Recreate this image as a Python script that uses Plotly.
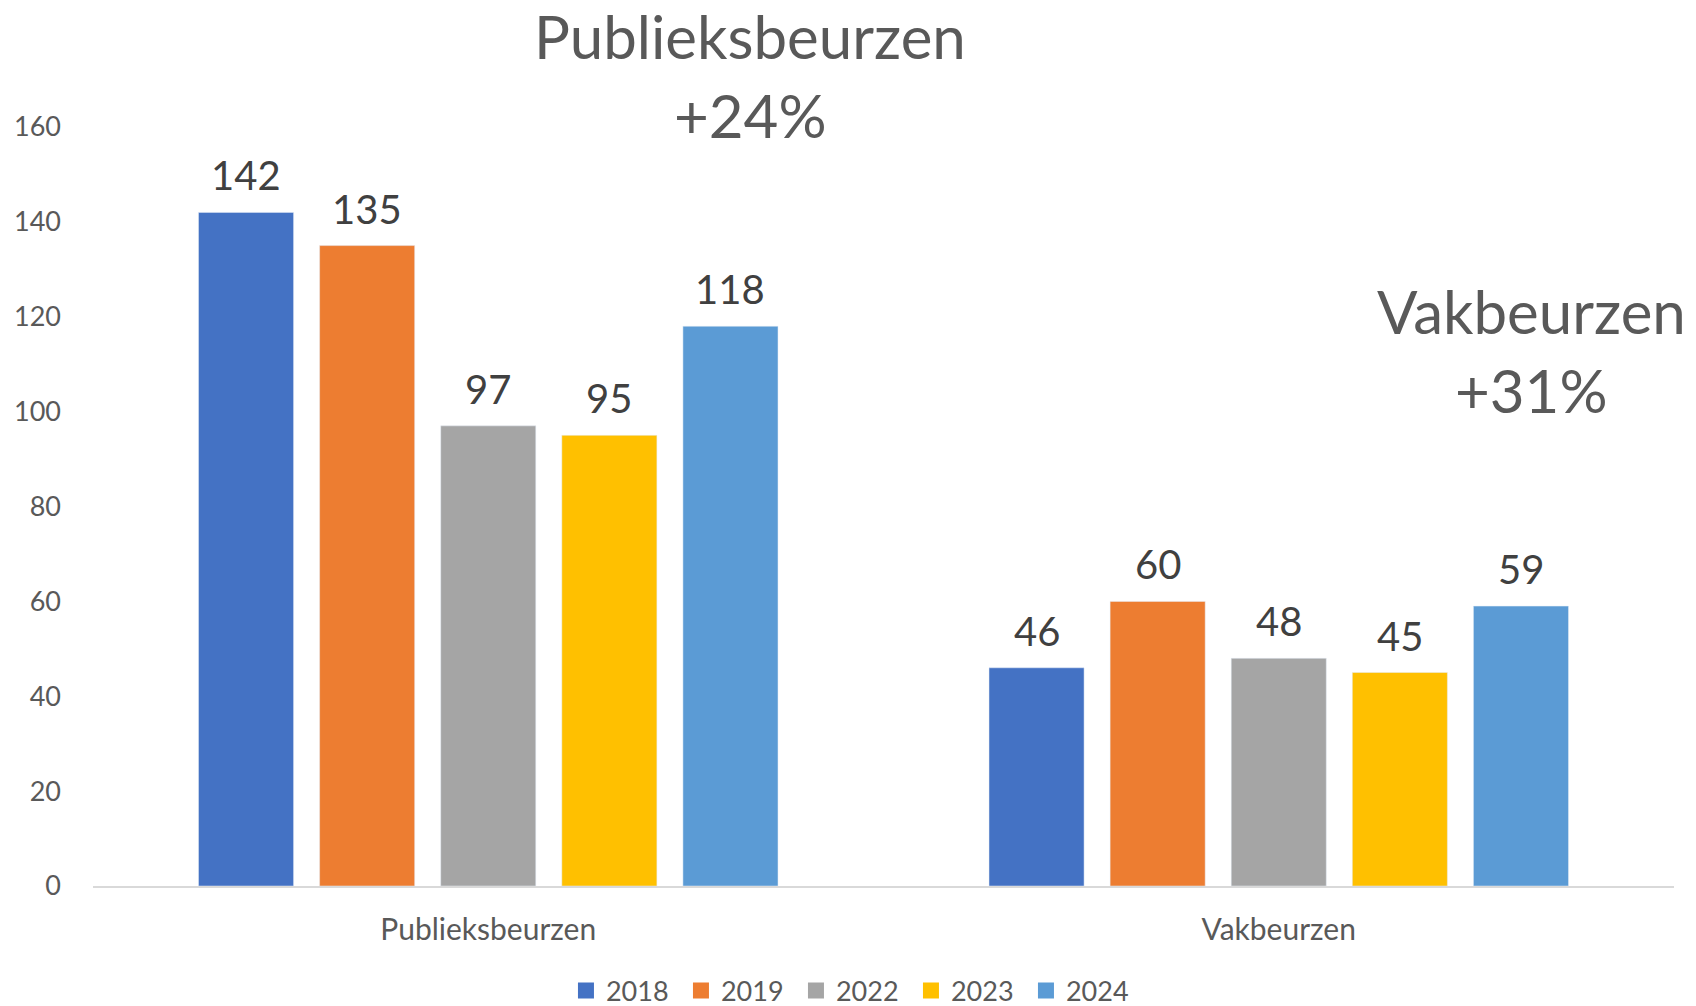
import plotly.graph_objects as go

categories = ["Publieksbeurzen", "Vakbeurzen"]
years = ["2018", "2019", "2022", "2023", "2024"]
values_2018 = [142, 46]
values_2019 = [135, 60]
values_2022 = [97, 48]
values_2023 = [95, 45]
values_2024 = [118, 59]
series = [values_2018, values_2019, values_2022, values_2023, values_2024]
colors = ["#4472C4", "#ED7D31", "#A5A5A5", "#FFC000", "#5B9BD5"]
y_ticks = [0, 20, 40, 60, 80, 100, 120, 140, 160]

FONT = "Lato"
BARGAP = 0.234
BARGROUPGAP = 0.215

fig = go.Figure()
for year, vals, col in zip(years, series, colors):
    fig.add_trace(go.Bar(
        name=year, x=categories, y=vals, marker_color=col, showlegend=False,
    ))
# legend entries with larger square swatches
for year, col in zip(years, colors):
    fig.add_trace(go.Scatter(
        name=year, x=[None], y=[None], mode="markers",
        marker=dict(symbol="square", size=17, color=col), showlegend=True,
    ))

# data labels above each bar
n = len(years)
slot = (1 - BARGAP) / n
for i, vals in enumerate(series):
    for ci, v in enumerate(vals):
        fig.add_annotation(
            x=ci - (1 - BARGAP) / 2 + slot * (i + 0.5), y=v, xref="x", yref="y",
            text=str(v), showarrow=False, yanchor="middle", yshift=37,
            font=dict(size=40, color="#404040", family=FONT),
        )

fig.update_layout(
    barmode="group", bargap=BARGAP, bargroupgap=BARGROUPGAP,
    width=1696, height=1006,
    margin=dict(l=93, r=22, t=127, b=120, autoexpand=False),
    plot_bgcolor="white", paper_bgcolor="white",
    font=dict(family=FONT, color="#595959"),
    showlegend=True,
    legend=dict(orientation="h", x=0.481, xanchor="center",
                yref="container", y=0.015, yanchor="middle",
                font=dict(size=27, color="#595959"), itemwidth=30,
                entrywidth=70, traceorder="normal"),
    xaxis=dict(showline=True, linecolor="#D9D9D9", linewidth=2, ticks="",
               automargin=False,
               tickfont=dict(size=30, color="#595959"), ticklabelstandoff=16),
    yaxis=dict(range=[0, 160], tickvals=y_ticks, showgrid=False, zeroline=False,
               automargin=False,
               showline=False, tickfont=dict(size=27, color="#595959"),
               ticklabelstandoff=31),
)

ann_font = dict(size=60, color="#595959", family=FONT)
fig.add_annotation(text="Publieksbeurzen", x=0.4156, y=1.12, xref="paper", yref="paper",
                   showarrow=False, font=ann_font, xanchor="center", yanchor="middle")
fig.add_annotation(text="+24%", x=0.4156, y=1.016, xref="paper", yref="paper",
                   showarrow=False, font=ann_font, xanchor="center", yanchor="middle")
fig.add_annotation(text="Vakbeurzen", x=0.910, y=0.758, xref="paper", yref="paper",
                   showarrow=False, font=ann_font, xanchor="center", yanchor="middle")
fig.add_annotation(text="+31%", x=0.910, y=0.654, xref="paper", yref="paper",
                   showarrow=False, font=ann_font, xanchor="center", yanchor="middle")

fig.write_html("out.html", config={"displayModeBar": False},
               post_script="document.body.style.margin='0';")
